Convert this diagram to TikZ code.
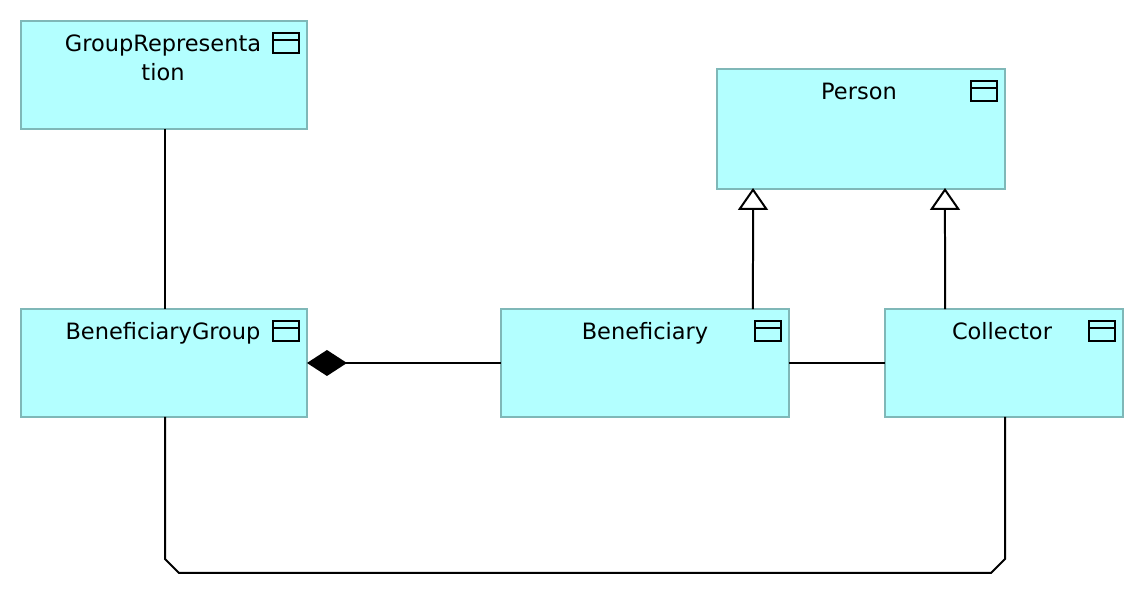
\documentclass[tikz,border=0pt]{standalone}
\usepackage{fontspec}
\setmainfont{DejaVu Sans}
\usepackage{tikz}
\usetikzlibrary{arrows.meta}
\definecolor{classfill}{HTML}{B3FFFF}
\definecolor{classline}{HTML}{7FB8B8}
\tikzset{
  font={\fontsize{12.8pt}{17pt}\selectfont},
  classbox/.style={draw=classline,fill=classfill,line width=0.04cm,outer sep=0pt},
  classname/.style={anchor=base,align=center},
  classicon/.style={draw=black,line width=0.04cm,minimum width=0.52cm,minimum height=0.4cm,outer sep=0pt},
  assoc/.style={draw=black,line width=0.04cm},
  genarrow/.style={assoc,-{Triangle[open,fill=white,length=0.44cm,width=0.6cm]}},
  comparrow/.style={assoc,{Diamond[length=0.8cm,width=0.52cm]}-}}

\begin{document}
\begin{tikzpicture}[x=0.02cm,y=0.02cm]
\tikzstyle{every node}+=[inner sep=0pt]
\useasboundingbox (0,0) rectangle (1144,-614);
% classes
\node [classbox,minimum width=5.72cm,minimum height=2.16cm] (group) at (164,-75) {};
\node [classbox,minimum width=5.76cm,minimum height=2.4cm] (person) at (861,-129) {};
\node [classbox,minimum width=5.72cm,minimum height=2.16cm] (bgroup) at (164,-363) {};
\node [classbox,minimum width=5.76cm,minimum height=2.16cm] (benef) at (645,-363) {};
\node [classbox,minimum width=4.76cm,minimum height=2.16cm] (collector) at (1004,-363) {};
% names
\node [classname] (groupname) at ([yshift=-1.2cm,xshift=-0.02cm]group.north) {GroupRepresenta\\tion};
\node [classname] (personname) at ([yshift=-0.62cm,xshift=-0.04cm]person.north) {Person};
\node [classname] (bgroupname) at ([yshift=-0.62cm,xshift=-0.02cm]bgroup.north) {BeneficiaryGroup};
\node [classname] (benefname) at ([yshift=-0.62cm]benef.north) {Beneficiary};
\node [classname] (collectorname) at ([yshift=-0.62cm,xshift=-0.04cm]collector.north) {Collector};
% icons
\foreach \n in {group,person,bgroup,benef,collector} {
  \node [classicon] (\n icon) at ([xshift=-0.42cm,yshift=-0.44cm]\n.north east) {};
  \draw [black,line width=0.04cm] ([yshift=-0.13cm]\n icon.north west) -- ([yshift=-0.13cm]\n icon.north east);
}
% connectors
\draw [assoc] ([xshift=0.02cm]group.south) -- ([xshift=0.02cm]bgroup.north);
\draw [comparrow] (bgroup.east) -- (benef.west);
\draw [assoc] (benef.east) -- (collector.west);
\draw [genarrow] ([xshift=2.16cm]benef.north) -- ([xshift=-2.16cm,yshift=0.02cm]person.south);
\draw [genarrow] ([xshift=-1.18cm]collector.north) -- ([xshift=1.68cm,yshift=0.02cm]person.south);
\coordinate (lowleft) at (165,-559);
\coordinate (lowright) at (1005,-559);
\draw [assoc] ([xshift=0.02cm]bgroup.south) -- (lowleft) -- ++(14,-14) -- ([xshift=-0.28cm,yshift=-0.28cm]lowright) -- (lowright) -- ([xshift=0.02cm]collector.south);
\end{tikzpicture}
\end{document}
